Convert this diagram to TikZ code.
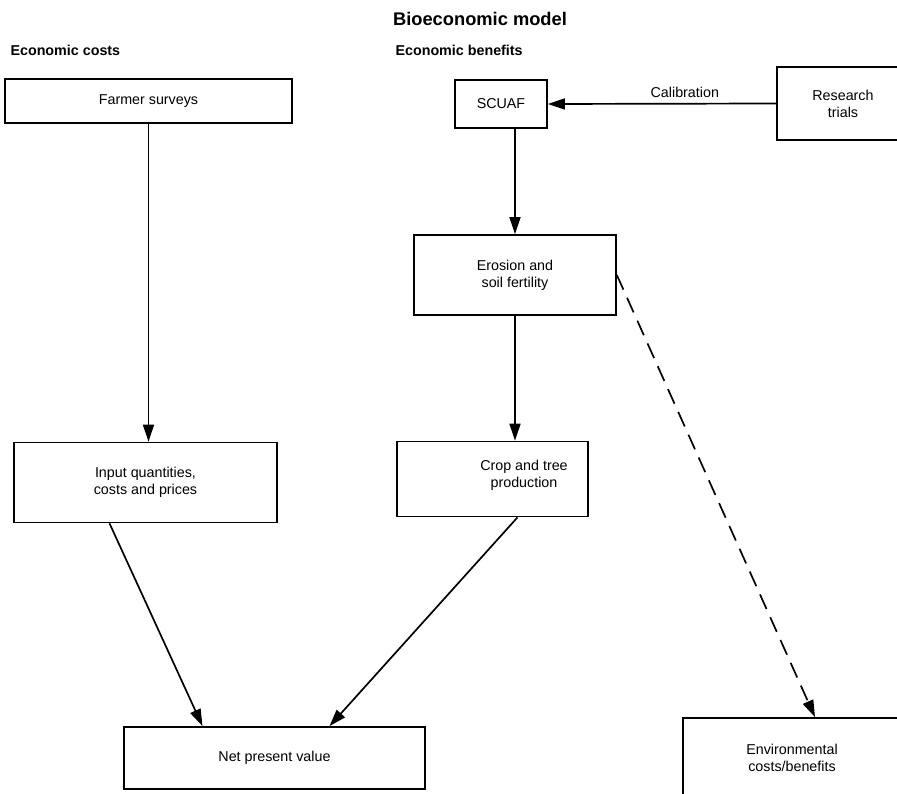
\documentclass[tikz,border=0pt]{standalone}
\usepackage{fontspec}
\setmainfont{Liberation Sans}
\usepackage{tikz}
\usetikzlibrary{calc,arrows.meta,positioning}
\definecolor{flowInk}{RGB}{0,0,0}

\begin{document}
\begin{tikzpicture}[x=1pt, y=-1pt,
    box/.style={draw=flowInk, line width=1.7pt, align=center, font=\fontsize{14.3}{17}\selectfont, inner sep=0pt},
    arr/.style={flowInk, line width=1.7pt, -{Triangle[length=17pt, width=11pt]}},
    head/.style={font=\bfseries\fontsize{14.3}{16}\selectfont, anchor=west}]
\useasboundingbox (0,0) rectangle (897,794);
\clip (0,0) rectangle (897,794);

\node[font=\bfseries\fontsize{18.3}{20}\selectfont] (title) at (480,19) {Bioeconomic model};
\node[head] (costs) at (7,50) {Economic costs};
\node[head] (benefits) at (392,50) {Economic benefits};

\node[box, minimum width=287, minimum height=44] (farmer) at (148.5,101) {Farmer surveys};
\node[box, minimum width=92, minimum height=48] (scuaf) at (501,104) {SCUAF};
\node[box, minimum width=132, minimum height=73] (trials) at (843,103.5) {Research\\trials};
\node[box, minimum width=202, minimum height=80] (erosion) at (515,275) {Erosion and\\soil fertility};
\node[box, minimum width=263, minimum height=80] (input) at (145.5,482.5) {Input quantities,\\costs and prices};
\node[box, minimum width=191, minimum height=75] (crop) at (492.5,479) {};
\node[font=\fontsize{14.3}{17}\selectfont, align=center] (croptext) at (524,475) {Crop and tree\\production};
\node[box, minimum width=301, minimum height=62] (npv) at (274.5,758) {Net present value};
\node[box, minimum width=218, minimum height=80] (env) at (792,758) {Environmental\\costs/benefits};

% links
\draw[arr] (farmer.south) -- (farmer.south |- input.north);
\draw[arr] (trials.west) -- node[pos=0.4, above=2pt, font=\fontsize{14.3}{17}\selectfont] {Calibration} (scuaf.east);
\draw[arr] (erosion.north |- scuaf.south) -- (erosion.north);
\draw[arr] (erosion.south) -- (erosion.south |- crop.north);
\draw[arr, dash pattern=on 16pt off 9pt] (erosion.east) -- ([xshift=23]env.north);
\draw[arr] ([xshift=-36]input.south) -- ([xshift=-72]npv.north);
\draw[arr] ([xshift=25]crop.south) -- ([xshift=55]npv.north);
\end{tikzpicture}
\end{document}
